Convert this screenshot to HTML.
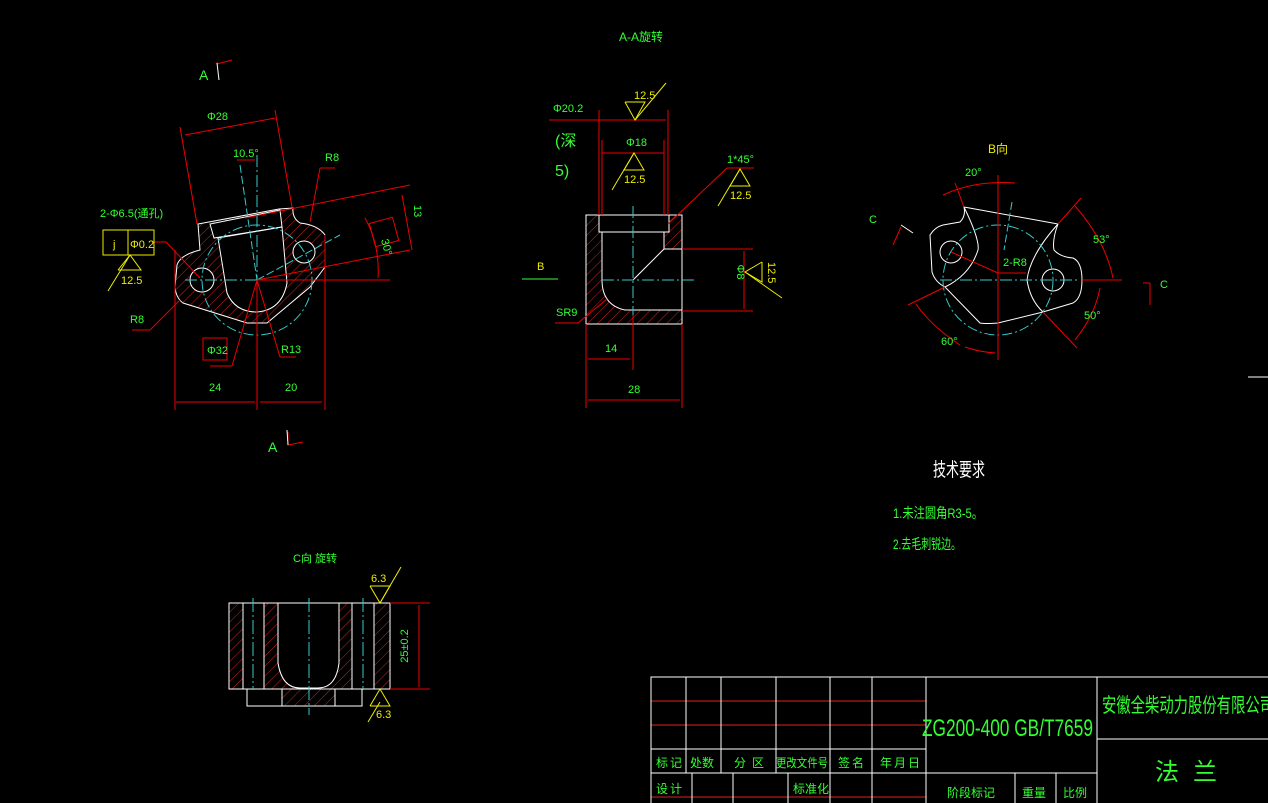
<!DOCTYPE html>
<html><head><meta charset="utf-8"><style>
html,body{margin:0;padding:0;background:#000;}
svg{display:block;}
text{font-family:"Liberation Sans","Noto Sans CJK SC",sans-serif;}
</style></head><body>
<svg width="1268" height="803" viewBox="0 0 1268 803" xmlns="http://www.w3.org/2000/svg">
<defs>
<pattern id="h" width="7" height="7" patternUnits="userSpaceOnUse" patternTransform="rotate(45)">
<line x1="0" y1="0" x2="0" y2="7" stroke="#d02020" stroke-width="1"/>
</pattern>
</defs>
<rect width="1268" height="803" fill="#000"/>

<!-- ===== Left view (A) ===== -->
<g fill="none" stroke-width="1">
<path d="M198,224 L200,250 Q180,255 177,265 L175,287 Q176,298 183,303 L247,323 L267,323 L310,287 L325,267 L325,235 Q318,225 300,223 Q292,218 293,208 L279,209 Z" fill="url(#h)" stroke="#fff"/>
<path d="M210,224 L214,238 L282,227 L280,210 Z" fill="#000" stroke="#fff"/>
<path d="M218,238 L227,293 Q235,312 257,312 Q282,310 287,283 L282,227 Z" fill="#000" stroke="#fff"/>
<circle cx="202" cy="280" r="12" fill="#000" stroke="#fff"/>
<circle cx="304" cy="252" r="11" fill="#000" stroke="#fff"/>
<circle cx="257" cy="280" r="55" stroke="#3cc" stroke-dasharray="10,3,2,3"/>
<line x1="257" y1="155" x2="257" y2="408" stroke="#3cc" stroke-dasharray="12,3,2,3"/>
<line x1="185" y1="280" x2="305" y2="280" stroke="#3cc" stroke-dasharray="12,3,2,3"/>
<line x1="240" y1="165" x2="257" y2="280" stroke="#3cc" stroke-dasharray="8,3"/>
<line x1="257" y1="280" x2="340" y2="235" stroke="#3cc" stroke-dasharray="8,3"/>
<!-- red dims -->
<g stroke="#e00">
<line x1="180" y1="127" x2="197" y2="224"/><line x1="275" y1="110" x2="292" y2="207"/>
<line x1="185" y1="135" x2="275" y2="118"/>
<line x1="237" y1="160" x2="255" y2="160"/>
<line x1="175" y1="250" x2="175" y2="410"/><line x1="325" y1="235" x2="325" y2="410"/>
<line x1="257" y1="280" x2="257" y2="410"/>
<line x1="176" y1="402" x2="255" y2="402"/><line x1="260" y1="402" x2="322" y2="402"/>
<line x1="245" y1="218" x2="410" y2="185"/>
<line x1="257" y1="280" x2="390" y2="280"/>
<line x1="257" y1="280" x2="410" y2="250"/>
<line x1="402" y1="195" x2="412" y2="250"/>
<path d="M365,218 Q380,245 378,278"/>
<line x1="320" y1="168" x2="335" y2="168"/><line x1="320" y1="168" x2="310" y2="222"/>
<line x1="257" y1="280" x2="280" y2="357"/><line x1="280" y1="357" x2="296" y2="357"/>
<line x1="257" y1="280" x2="232" y2="366"/><line x1="232" y1="366" x2="210" y2="366"/>
<line x1="180" y1="300" x2="150" y2="330"/><line x1="150" y1="330" x2="132" y2="330"/>
<line x1="154" y1="242" x2="166" y2="242"/><line x1="166" y1="242" x2="200" y2="278"/>
<rect x="203" y="338" width="24" height="22"/>
<rect x="372" y="220" width="24" height="24" transform="rotate(-15 384 232)"/>
<polyline points="217,62 217,64 232,60"/>
<polyline points="288,432 288,445 303,442"/>
</g>
<line x1="217" y1="63" x2="219" y2="80" stroke="#fff"/>
<line x1="287" y1="430" x2="288" y2="445" stroke="#fff"/>
</g>
<g fill="#3f3" font-size="11">
<text x="199" y="80" font-size="14">A</text>
<text x="268" y="452" font-size="14">A</text>
<text x="207" y="120">Φ28</text>
<text x="233" y="157">10.5°</text>
<text x="325" y="161">R8</text>
<text x="100" y="217">2-Φ6.5(通孔)</text>
<text x="130" y="323">R8</text>
<text x="281" y="353">R13</text>
<text x="207" y="354">Φ32</text>
<text x="209" y="391">24</text>
<text x="285" y="391">20</text>
<text x="0" y="0" transform="translate(381,240) rotate(75)">30°</text>
<text x="0" y="0" transform="translate(414,205) rotate(90)">13</text>
</g>
<g stroke="#ee0" fill="none">
<rect x="103" y="230" width="25" height="25"/><rect x="128" y="230" width="26" height="25"/>
<polyline points="118,270 130,255 141,270 118,270"/>
<line x1="108" y1="291" x2="130" y2="255"/>
</g>
<g fill="#ee0" font-size="11"><text x="113" y="248">j</text><text x="130" y="248">Φ0.2</text><text x="121" y="284">12.5</text></g>

<!-- ===== A-A view ===== -->
<text x="619" y="41" fill="#3f3" font-size="12">A-A旋转</text>
<g fill="none" stroke-width="1">
<path d="M586,215 L682,215 L682,249 L664,249 L633,280 L602,280 L602,232 L599,232 L599,215 L586,215 Z" fill="none"/>
<rect x="586" y="215" width="96" height="109" fill="url(#h)" stroke="#fff"/>
<path d="M599,215 L669,215 L669,232 L664,232 L664,249 L682,249 L682,310 L625,310 Q602,305 602,280 L602,232 L599,232 Z" fill="#000" stroke="#fff"/>
<line x1="599" y1="232" x2="669" y2="232" stroke="#fff"/>
<line x1="664" y1="249" x2="633" y2="280" stroke="#fff"/>
<line x1="682" y1="249" x2="682" y2="324" stroke="#fff"/>
<line x1="633" y1="206" x2="633" y2="315" stroke="#3cc" stroke-dasharray="12,3,2,3"/>
<line x1="602" y1="280" x2="695" y2="280" stroke="#3cc" stroke-dasharray="12,3,2,3"/>
<g stroke="#e00">
<line x1="599" y1="110" x2="599" y2="215"/><line x1="668" y1="110" x2="668" y2="215"/>
<line x1="602" y1="140" x2="602" y2="215"/><line x1="664" y1="140" x2="664" y2="215"/>
<line x1="549" y1="120" x2="666" y2="120"/>
<line x1="602" y1="153" x2="664" y2="153"/>
<line x1="668" y1="224" x2="727" y2="168"/><line x1="727" y1="168" x2="754" y2="168"/>
<line x1="682" y1="249" x2="753" y2="249"/><line x1="682" y1="311" x2="753" y2="311"/>
<line x1="744" y1="251" x2="744" y2="309"/>
<line x1="555" y1="323" x2="578" y2="323"/><line x1="578" y1="323" x2="607" y2="299"/>
<line x1="586" y1="324" x2="586" y2="408"/><line x1="682" y1="324" x2="682" y2="408"/>
<line x1="633" y1="315" x2="633" y2="370"/>
<line x1="588" y1="359" x2="630" y2="359"/><line x1="588" y1="400" x2="680" y2="400"/>
</g>
<line x1="522" y1="279" x2="558" y2="279" stroke="#3f3"/>
<g stroke="#ee0">
<polyline points="625,102 645,102 635,120 625,102"/><line x1="635" y1="120" x2="666" y2="83"/>
<polyline points="624,170 644,170 634,153 624,170"/><line x1="612" y1="190" x2="634" y2="153"/>
<polyline points="730,186 750,186 740,169 730,186"/><line x1="718" y1="206" x2="740" y2="169"/>
<polyline points="762,262 762,282 745,272 762,262"/><line x1="745" y1="272" x2="782" y2="298"/>
</g>
</g>
<g fill="#3f3" font-size="11">
<text x="553" y="112">Φ20.2</text><text x="626" y="146">Φ18</text>
<text x="555" y="146" font-size="16">(深</text><text x="555" y="176" font-size="16">5)</text>
<text x="727" y="163">1*45°</text>
<text x="556" y="316">SR9</text>
<text x="605" y="352">14</text><text x="628" y="393">28</text>
<text x="0" y="0" transform="translate(737,272) rotate(90)" text-anchor="middle">Φ8</text>
</g>
<g fill="#ee0" font-size="11"><text x="634" y="99">12.5</text><text x="624" y="183">12.5</text><text x="730" y="199">12.5</text>
<text x="0" y="0" transform="translate(768,262) rotate(90)">12.5</text><text x="537" y="270">B</text></g>

<!-- ===== B view ===== -->
<text x="988" y="153" fill="#ee0" font-size="12">B向</text>
<g fill="none" stroke-width="1">
<path d="M964,207 L1058,224 Q1052,240 1054,250 Q1060,257 1073,258 Q1082,262 1082,280 Q1082,298 1073,303 L1043,312 L998,323 Q985,324 980,323 L945,287 Q935,282 932,272 L930,235 Q935,227 943,225 L960,222 Q966,216 964,207 Z" stroke="#fff"/>
<path d="M964,207 Q980,240 978,250 Q970,275 945,287" stroke="#fff"/>
<path d="M1058,224 Q1030,255 1027,280 Q1030,300 1043,312" stroke="#fff"/>
<circle cx="951" cy="252" r="11" stroke="#fff"/>
<circle cx="1053" cy="280" r="11" stroke="#fff"/>
<circle cx="998" cy="280" r="55" stroke="#3cc" stroke-dasharray="10,3,2,3"/>
<line x1="940" y1="280" x2="1080" y2="280" stroke="#3cc" stroke-dasharray="12,3,2,3"/>
<line x1="998" y1="200" x2="998" y2="340" stroke="#3cc" stroke-dasharray="12,3,2,3"/>
<line x1="1012" y1="202" x2="1004" y2="250" stroke="#3cc" stroke-dasharray="8,3"/>
<g stroke="#e00">
<line x1="998" y1="175" x2="998" y2="360"/>
<line x1="1082" y1="280" x2="1122" y2="280"/>
<line x1="955" y1="183" x2="964" y2="207"/>
<path d="M943,195 Q975,180 1015,183"/>
<line x1="1058" y1="224" x2="1081" y2="198"/>
<path d="M1075,206 Q1105,240 1113,278"/>
<path d="M1100,288 Q1095,315 1075,340"/>
<line x1="1043" y1="312" x2="1077" y2="348"/>
<line x1="945" y1="287" x2="908" y2="305"/>
<path d="M916,304 Q930,325 960,345"/>
<path d="M965,347 Q980,352 995,353"/>
<line x1="951" y1="252" x2="998" y2="273"/><line x1="998" y1="273" x2="1026" y2="273"/>
<line x1="1143" y1="283" x2="1150" y2="283"/><line x1="1150" y1="283" x2="1150" y2="305"/>
<line x1="901" y1="227" x2="893" y2="245"/>
</g>
<polyline points="913,233 901,225" stroke="#fff"/>
</g>
<g fill="#3f3" font-size="11">
<text x="965" y="176">20°</text><text x="1093" y="243">53°</text><text x="1084" y="319">50°</text>
<text x="941" y="345">60°</text><text x="1003" y="266">2-R8</text>
<text x="869" y="223">C</text><text x="1160" y="288">C</text>
</g>

<!-- ===== C view ===== -->
<text x="293" y="562" fill="#3f3" font-size="11">C向 旋转</text>
<g fill="none" stroke-width="1">
<rect x="229" y="603" width="161" height="86" fill="url(#h)" stroke="#fff"/>
<rect x="243" y="603" width="21" height="86" fill="#000" stroke="#fff"/>
<rect x="352" y="603" width="22" height="86" fill="#000" stroke="#fff"/>
<path d="M278,603 L278,663 Q282,688 300,688 L318,688 Q336,688 339,663 L339,603 Z" fill="#000" stroke="#fff"/>
<rect x="247" y="689" width="115" height="17" stroke="#fff"/>
<rect x="282" y="689" width="53" height="17" fill="url(#h)" stroke="#fff"/>
<line x1="253" y1="598" x2="253" y2="690" stroke="#3cc" stroke-dasharray="14,3,2,3"/>
<line x1="309" y1="598" x2="309" y2="715" stroke="#3cc" stroke-dasharray="14,3,2,3"/>
<line x1="363" y1="598" x2="363" y2="690" stroke="#3cc" stroke-dasharray="14,3,2,3"/>
<g stroke="#e00"><line x1="390" y1="603" x2="430" y2="603"/><line x1="390" y1="689" x2="430" y2="689"/><line x1="419" y1="605" x2="419" y2="687"/></g>
<g stroke="#ee0">
<polyline points="370,586 390,586 380,603 370,586"/><line x1="380" y1="603" x2="401" y2="567"/>
<polyline points="370,706 390,706 380,689 370,706"/><line x1="368" y1="722" x2="380" y2="702"/>
</g>
</g>
<g font-size="11"><text x="371" y="582" fill="#ee0">6.3</text><text x="376" y="718" fill="#ee0">6.3</text>
<text x="0" y="0" fill="#3f3" transform="translate(408,646) rotate(-90)" text-anchor="middle">25±0.2</text></g>

<!-- tech requirements -->
<text x="933" y="476" fill="#fff" font-size="19" textLength="52" lengthAdjust="spacingAndGlyphs">技术要求</text>
<text x="893" y="518" fill="#3f3" font-size="14" textLength="90" lengthAdjust="spacingAndGlyphs">1.未注圆角R3-5。</text>
<text x="893" y="549" fill="#3f3" font-size="14" textLength="68" lengthAdjust="spacingAndGlyphs">2.去毛刺锐边。</text>
<line x1="1248" y1="377" x2="1268" y2="377" stroke="#fff"/>

<!-- ===== title block ===== -->
<g fill="none" stroke-width="1">
<g stroke="#d22"><line x1="651" y1="701" x2="926" y2="701"/><line x1="651" y1="725" x2="926" y2="725"/><line x1="651" y1="797" x2="926" y2="797"/></g>
<g stroke="#fff">
<polyline points="651,803 651,677 1268,677"/>
<line x1="651" y1="749" x2="926" y2="749"/><line x1="651" y1="773" x2="1097" y2="773"/>
<line x1="1097" y1="739" x2="1268" y2="739"/>
<line x1="686" y1="677" x2="686" y2="773"/><line x1="721" y1="677" x2="721" y2="773"/>
<line x1="776" y1="677" x2="776" y2="773"/><line x1="830" y1="677" x2="830" y2="803"/>
<line x1="872" y1="677" x2="872" y2="803"/><line x1="926" y1="677" x2="926" y2="803"/>
<line x1="1097" y1="677" x2="1097" y2="803"/>
<line x1="692" y1="773" x2="692" y2="803"/><line x1="733" y1="773" x2="733" y2="803"/>
<line x1="788" y1="773" x2="788" y2="803"/>
<line x1="1015" y1="773" x2="1015" y2="803"/><line x1="1056" y1="773" x2="1056" y2="803"/>
</g>
</g>
<g fill="#3f3">
<text x="922" y="736" font-size="24" textLength="171" lengthAdjust="spacingAndGlyphs">ZG200-400 GB/T7659</text>
<text x="1102" y="712" font-size="20" textLength="172" lengthAdjust="spacingAndGlyphs">安徽全柴动力股份有限公司</text>
<text x="1155" y="780" font-size="24" textLength="62" lengthAdjust="spacing">法 兰</text>
<g font-size="12">
<text x="656" y="767" textLength="26" lengthAdjust="spacing">标记</text>
<text x="690" y="767">处数</text>
<text x="734" y="767" textLength="30" lengthAdjust="spacing">分区</text>
<text x="776" y="767" textLength="52" lengthAdjust="spacingAndGlyphs">更改文件号</text>
<text x="838" y="767" textLength="26" lengthAdjust="spacing">签名</text>
<text x="880" y="767" textLength="40" lengthAdjust="spacing">年月日</text>
<text x="656" y="793" textLength="26" lengthAdjust="spacing">设计</text>
<text x="793" y="793">标准化</text>
<text x="947" y="797">阶段标记</text>
<text x="1022" y="797">重量</text>
<text x="1063" y="797">比例</text>
</g>
</g>
</svg>
</body></html>
